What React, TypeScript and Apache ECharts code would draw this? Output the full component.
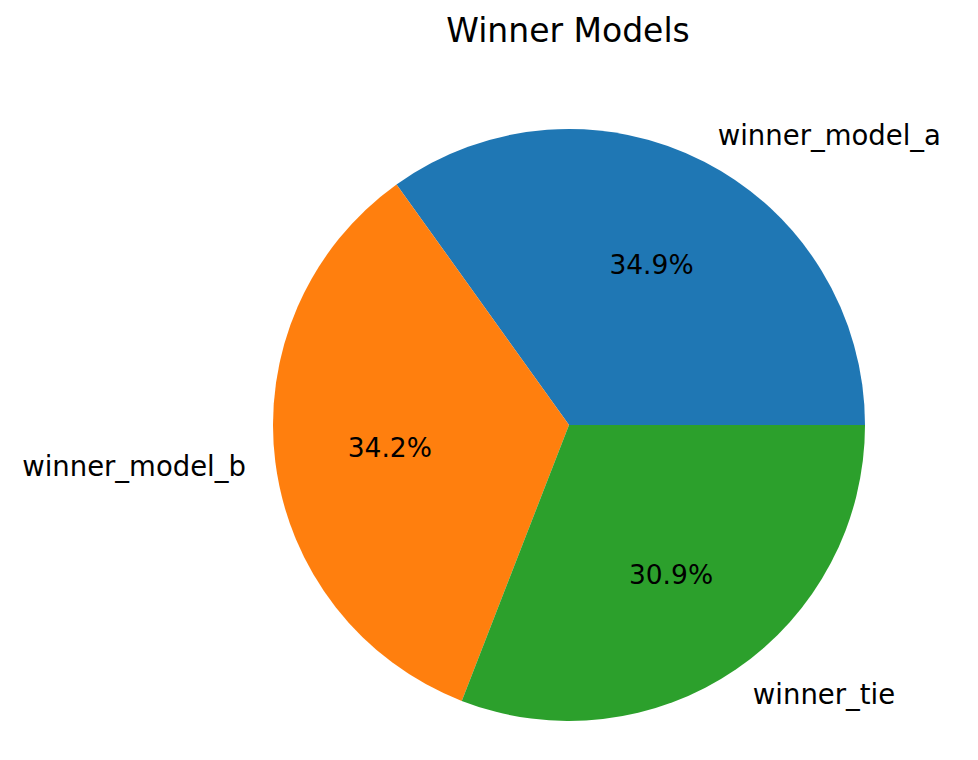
import React, { useEffect, useRef } from "react";
import * as echarts from "echarts";

const categories = ["winner_model_a", "winner_model_b", "winner_tie"];
const values = [34.9, 34.2, 30.9];
const colors = ["#1f77b4", "#ff7f0e", "#2ca02c"];

export default function App() {
  const ref = useRef<HTMLDivElement>(null);
  useEffect(() => {
    if (!ref.current) return;
    const chart = echarts.init(ref.current, null, { renderer: "svg" });
    const R = 296;
    const data = categories.map((name, i) => ({
      name,
      value: values[i],
      itemStyle: { color: colors[i] },
    }));
    chart.setOption({
      animation: false,
      backgroundColor: "#ffffff",
      title: {
        text: "Winner Models",
        left: 563,
        top: 9,
        textAlign: "center",
        textStyle: {
          fontFamily: "DejaVu Sans",
          fontSize: 33,
          fontWeight: "normal",
          color: "#000",
        },
      },
      series: [
        {
          type: "pie",
          center: [569, 425],
          radius: [0, R],
          startAngle: 0,
          clockwise: false,
          avoidLabelOverlap: false,
          silent: true,
          emphasis: { disabled: true },
          data,
          label: {
            show: true,
            position: "outside",
            formatter: "{b}",
            fontFamily: "DejaVu Sans",
            fontSize: 27.5,
            color: "#000",
            distanceToLabelLine: 0,
          },
          labelLine: { show: false, length: R * 0.1, length2: 0 },
        },
        {
          type: "pie",
          center: [569, 425],
          radius: [0, R * 1.2],
          startAngle: 0,
          clockwise: false,
          avoidLabelOverlap: false,
          silent: true,
          emphasis: { disabled: true },
          data: categories.map((name, i) => ({
            name,
            value: values[i],
            itemStyle: { color: "rgba(0,0,0,0)" },
          })),
          label: {
            show: true,
            position: "inside",
            formatter: (p: any) => `${p.value.toFixed(1)}%`,
            fontFamily: "DejaVu Sans",
            fontSize: 26.5,
            color: "#000",
          },
          labelLine: { show: false },
        },
      ],
    });
    return () => chart.dispose();
  }, []);
  return (
    <div
      ref={ref}
      style={{ position: "absolute", left: 0, top: 0, width: 978, height: 760 }}
    />
  );
}
